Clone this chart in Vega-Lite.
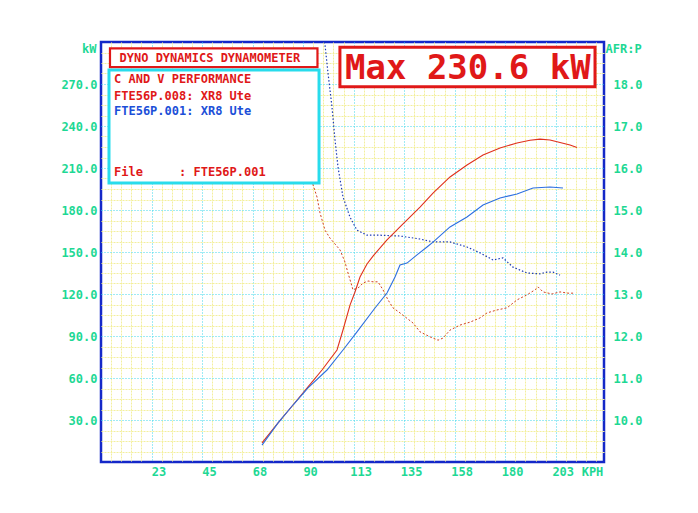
{
  "$schema": "https://vega.github.io/schema/vega-lite/v6.json",
  "width": 503,
  "height": 420,
  "autosize": {"type": "none"},
  "padding": {"left": 101, "top": 42, "right": 94, "bottom": 51},
  "background": "white",
  "config": {
    "view": {"stroke": "#1428c8", "strokeWidth": 2.5, "fill": "white"},
    "axis": {
      "labelFont": "DejaVu Sans Mono",
      "labelFontSize": 12,
      "labelFontWeight": "bold",
      "labelColor": "#1ed894",
      "titleFont": "DejaVu Sans Mono",
      "titleFontSize": 12,
      "titleFontWeight": "bold",
      "titleColor": "#1ed894",
      "ticks": false,
      "tickSize": 0,
      "domain": false,
      "labelOverlap": false,
      "labelFlush": false
    }
  },
  "datasets": {
    "power": [
      {"run": "FTE56P.008", "kph": 71.7, "kw": 13.6},
      {"run": "FTE56P.008", "kph": 78.86, "kw": 27.9},
      {"run": "FTE56P.008", "kph": 85.5, "kw": 40.7},
      {"run": "FTE56P.008", "kph": 92.19, "kw": 53.6},
      {"run": "FTE56P.008", "kph": 98.42, "kw": 65.7},
      {"run": "FTE56P.008", "kph": 105.1, "kw": 80.0},
      {"run": "FTE56P.008", "kph": 107.77, "kw": 94.3},
      {"run": "FTE56P.008", "kph": 110.89, "kw": 112.1},
      {"run": "FTE56P.008", "kph": 113.11, "kw": 121.4},
      {"run": "FTE56P.008", "kph": 115.34, "kw": 132.1},
      {"run": "FTE56P.008", "kph": 118.46, "kw": 141.4},
      {"run": "FTE56P.008", "kph": 121.13, "kw": 147.1},
      {"run": "FTE56P.008", "kph": 127.36, "kw": 158.6},
      {"run": "FTE56P.008", "kph": 133.15, "kw": 167.9},
      {"run": "FTE56P.008", "kph": 142.06, "kw": 182.1},
      {"run": "FTE56P.008", "kph": 147.85, "kw": 192.1},
      {"run": "FTE56P.008", "kph": 155.42, "kw": 203.6},
      {"run": "FTE56P.008", "kph": 162.99, "kw": 212.1},
      {"run": "FTE56P.008", "kph": 170.12, "kw": 219.3},
      {"run": "FTE56P.008", "kph": 177.69, "kw": 224.3},
      {"run": "FTE56P.008", "kph": 185.26, "kw": 227.9},
      {"run": "FTE56P.008", "kph": 191.05, "kw": 229.8},
      {"run": "FTE56P.008", "kph": 195.5, "kw": 230.6},
      {"run": "FTE56P.008", "kph": 199.96, "kw": 230.0},
      {"run": "FTE56P.008", "kph": 204.41, "kw": 228.2},
      {"run": "FTE56P.008", "kph": 208.86, "kw": 226.4},
      {"run": "FTE56P.008", "kph": 211.98, "kw": 224.6},
      {"run": "FTE56P.001", "kph": 71.7, "kw": 12.1},
      {"run": "FTE56P.001", "kph": 78.86, "kw": 27.9},
      {"run": "FTE56P.001", "kph": 85.5, "kw": 40.7},
      {"run": "FTE56P.001", "kph": 92.19, "kw": 52.9},
      {"run": "FTE56P.001", "kph": 100.65, "kw": 65.7},
      {"run": "FTE56P.001", "kph": 107.77, "kw": 80.0},
      {"run": "FTE56P.001", "kph": 114.0, "kw": 92.9},
      {"run": "FTE56P.001", "kph": 122.02, "kw": 110.0},
      {"run": "FTE56P.001", "kph": 127.36, "kw": 120.7},
      {"run": "FTE56P.001", "kph": 130.93, "kw": 132.1},
      {"run": "FTE56P.001", "kph": 133.15, "kw": 140.7},
      {"run": "FTE56P.001", "kph": 136.27, "kw": 142.1},
      {"run": "FTE56P.001", "kph": 140.72, "kw": 147.9},
      {"run": "FTE56P.001", "kph": 145.18, "kw": 153.6},
      {"run": "FTE56P.001", "kph": 147.85, "kw": 157.1},
      {"run": "FTE56P.001", "kph": 155.42, "kw": 167.9},
      {"run": "FTE56P.001", "kph": 162.99, "kw": 175.0},
      {"run": "FTE56P.001", "kph": 170.12, "kw": 183.6},
      {"run": "FTE56P.001", "kph": 177.69, "kw": 188.6},
      {"run": "FTE56P.001", "kph": 185.26, "kw": 191.4},
      {"run": "FTE56P.001", "kph": 192.39, "kw": 195.7},
      {"run": "FTE56P.001", "kph": 199.96, "kw": 196.4},
      {"run": "FTE56P.001", "kph": 205.74, "kw": 195.7}
    ],
    "afr": [
      {"run": "FTE56P.008", "kph": 93.52, "afr": 15.9},
      {"run": "FTE56P.008", "kph": 94.41, "afr": 15.6},
      {"run": "FTE56P.008", "kph": 96.19, "afr": 15.31},
      {"run": "FTE56P.008", "kph": 97.53, "afr": 14.93},
      {"run": "FTE56P.008", "kph": 99.76, "afr": 14.52},
      {"run": "FTE56P.008", "kph": 101.98, "afr": 14.33},
      {"run": "FTE56P.008", "kph": 106.44, "afr": 14.05},
      {"run": "FTE56P.008", "kph": 108.66, "afr": 13.76},
      {"run": "FTE56P.008", "kph": 110.0, "afr": 13.5},
      {"run": "FTE56P.008", "kph": 112.22, "afr": 13.1},
      {"run": "FTE56P.008", "kph": 114.45, "afr": 13.14},
      {"run": "FTE56P.008", "kph": 116.68, "afr": 13.26},
      {"run": "FTE56P.008", "kph": 118.9, "afr": 13.31},
      {"run": "FTE56P.008", "kph": 121.13, "afr": 13.29},
      {"run": "FTE56P.008", "kph": 123.36, "afr": 13.29},
      {"run": "FTE56P.008", "kph": 125.58, "afr": 13.1},
      {"run": "FTE56P.008", "kph": 127.81, "afr": 12.86},
      {"run": "FTE56P.008", "kph": 130.04, "afr": 12.67},
      {"run": "FTE56P.008", "kph": 133.15, "afr": 12.55},
      {"run": "FTE56P.008", "kph": 138.94, "afr": 12.31},
      {"run": "FTE56P.008", "kph": 142.06, "afr": 12.1},
      {"run": "FTE56P.008", "kph": 146.52, "afr": 11.98},
      {"run": "FTE56P.008", "kph": 150.08, "afr": 11.9},
      {"run": "FTE56P.008", "kph": 152.3, "afr": 11.95},
      {"run": "FTE56P.008", "kph": 155.42, "afr": 12.14},
      {"run": "FTE56P.008", "kph": 159.88, "afr": 12.26},
      {"run": "FTE56P.008", "kph": 164.33, "afr": 12.33},
      {"run": "FTE56P.008", "kph": 168.78, "afr": 12.43},
      {"run": "FTE56P.008", "kph": 171.9, "afr": 12.55},
      {"run": "FTE56P.008", "kph": 176.35, "afr": 12.62},
      {"run": "FTE56P.008", "kph": 180.81, "afr": 12.67},
      {"run": "FTE56P.008", "kph": 185.26, "afr": 12.86},
      {"run": "FTE56P.008", "kph": 189.71, "afr": 12.98},
      {"run": "FTE56P.008", "kph": 193.28, "afr": 13.1},
      {"run": "FTE56P.008", "kph": 194.61, "afr": 13.17},
      {"run": "FTE56P.008", "kph": 196.84, "afr": 13.05},
      {"run": "FTE56P.008", "kph": 200.85, "afr": 13.0},
      {"run": "FTE56P.008", "kph": 204.41, "afr": 13.05},
      {"run": "FTE56P.008", "kph": 207.97, "afr": 13.02},
      {"run": "FTE56P.008", "kph": 211.09, "afr": 13.02},
      {"run": "FTE56P.001", "kph": 99.31, "afr": 19.0},
      {"run": "FTE56P.001", "kph": 99.76, "afr": 18.93},
      {"run": "FTE56P.001", "kph": 101.09, "afr": 18.26},
      {"run": "FTE56P.001", "kph": 102.87, "afr": 17.45},
      {"run": "FTE56P.001", "kph": 104.21, "afr": 16.67},
      {"run": "FTE56P.001", "kph": 105.55, "afr": 16.02},
      {"run": "FTE56P.001", "kph": 107.77, "afr": 15.31},
      {"run": "FTE56P.001", "kph": 110.89, "afr": 14.83},
      {"run": "FTE56P.001", "kph": 114.0, "afr": 14.52},
      {"run": "FTE56P.001", "kph": 118.46, "afr": 14.4},
      {"run": "FTE56P.001", "kph": 124.25, "afr": 14.4},
      {"run": "FTE56P.001", "kph": 133.15, "afr": 14.38},
      {"run": "FTE56P.001", "kph": 142.06, "afr": 14.31},
      {"run": "FTE56P.001", "kph": 147.85, "afr": 14.24},
      {"run": "FTE56P.001", "kph": 155.42, "afr": 14.24},
      {"run": "FTE56P.001", "kph": 162.99, "afr": 14.12},
      {"run": "FTE56P.001", "kph": 168.78, "afr": 13.98},
      {"run": "FTE56P.001", "kph": 174.57, "afr": 13.81},
      {"run": "FTE56P.001", "kph": 179.02, "afr": 13.86},
      {"run": "FTE56P.001", "kph": 183.48, "afr": 13.64},
      {"run": "FTE56P.001", "kph": 189.71, "afr": 13.5},
      {"run": "FTE56P.001", "kph": 195.5, "afr": 13.48},
      {"run": "FTE56P.001", "kph": 198.62, "afr": 13.52},
      {"run": "FTE56P.001", "kph": 201.29, "afr": 13.52},
      {"run": "FTE56P.001", "kph": 204.41, "afr": 13.45}
    ]
  },
  "layer": [
    {
      "data": {"name": "afr"},
      "layer": [
        {
          "transform": [{"filter": "datum.run == 'FTE56P.008'"}],
          "mark": {"type": "line", "color": "#d2401e", "strokeWidth": 1, "strokeDash": [2, 2]},
          "encoding": {
            "x": {
              "field": "kph", "type": "quantitative",
              "scale": {"domain": [0, 224], "nice": false, "zero": false},
              "axis": {
                "orient": "bottom",
                "values": [4.5, 9, 13.5, 18, 27, 31.5, 36, 40.5, 49.5, 54, 58.5, 63, 72, 76.5, 81, 85.5, 94.5, 99, 103.5, 108, 117, 121.5, 126, 130.5, 139.5, 144, 148.5, 153, 162, 166.5, 171, 175.5, 184.5, 189, 193.5, 198, 207, 211.5, 216, 220.5],
                "labels": false,
                "title": null,
                "grid": true,
                "gridColor": "#f3ef9c",
                "gridDash": [2, 1],
                "gridWidth": 1
              }
            },
            "y": {
              "field": "afr", "type": "quantitative",
              "scale": {"domain": [9, 19], "nice": false, "zero": false},
              "axis": {
                "orient": "right",
                "values": [9.25, 9.5, 9.75, 10.25, 10.5, 10.75, 11.25, 11.5, 11.75, 12.25, 12.5, 12.75, 13.25, 13.5, 13.75, 14.25, 14.5, 14.75, 15.25, 15.5, 15.75, 16.25, 16.5, 16.75, 17.25, 17.5, 17.75, 18.25, 18.5, 18.75],
                "labels": false,
                "title": null,
                "grid": true,
                "gridColor": "#f3ef9c",
                "gridDash": [2, 1],
                "gridWidth": 1
              }
            }
          }
        },
        {
          "transform": [{"filter": "datum.run == 'FTE56P.001'"}],
          "mark": {"type": "line", "color": "#1a3ab4", "strokeWidth": 1.2, "strokeDash": [1.5, 2]},
          "encoding": {
            "x": {"field": "kph", "type": "quantitative", "axis": null},
            "y": {
              "field": "afr", "type": "quantitative",
              "axis": {
                "orient": "right",
                "values": [10, 11, 12, 13, 14, 15, 16, 17, 18],
                "format": ".1f",
                "grid": false,
                "labelAlign": "left",
                "labelPadding": 9,
                "title": "AFR:P",
                "titleAngle": 0,
                "titleAlign": "left",
                "titleBaseline": "middle",
                "titleX": 1,
                "titleY": 6
              }
            }
          }
        }
      ],
      "resolve": {"axis": {"x": "independent", "y": "independent"}}
    },
    {
      "data": {"name": "power"},
      "layer": [
        {
          "transform": [{"filter": "datum.run == 'FTE56P.008'"}],
          "mark": {"type": "line", "color": "#e0301c", "strokeWidth": 1.1},
          "encoding": {
            "x": {
              "field": "kph", "type": "quantitative",
              "scale": {"domain": [0, 224], "nice": false, "zero": false},
              "axis": {
                "orient": "bottom",
                "values": [22.5, 45, 67.5, 90, 112.5, 135, 157.5, 180, 202.5],
                "labelExpr": "'' + round(datum.value)",
                "labelOffset": 7,
                "labelPadding": 4,
                "grid": true,
                "gridColor": "#3cd6ea",
                "gridDash": [1, 2],
                "gridWidth": 1,
                "title": "KPH",
                "titleX": 491,
                "titleY": 9,
                "titleAlign": "center",
                "titleBaseline": "middle"
              }
            },
            "y": {
              "field": "kw", "type": "quantitative",
              "scale": {"domain": [0, 300], "nice": false, "zero": false},
              "axis": {
                "orient": "left",
                "values": [30, 60, 90, 120, 150, 180, 210, 240, 270],
                "format": ".1f",
                "labelPadding": 4,
                "grid": true,
                "gridColor": "#3cd6ea",
                "gridDash": [1, 2],
                "gridWidth": 1,
                "title": "kW",
                "titleAngle": 0,
                "titleAlign": "right",
                "titleBaseline": "middle",
                "titleX": -5,
                "titleY": 6
              }
            }
          }
        },
        {
          "transform": [{"filter": "datum.run == 'FTE56P.001'"}],
          "mark": {"type": "line", "color": "#2c6fe0", "strokeWidth": 1.1},
          "encoding": {
            "x": {"field": "kph", "type": "quantitative", "axis": null},
            "y": {"field": "kw", "type": "quantitative", "axis": null}
          }
        }
      ],
      "resolve": {"axis": {"x": "independent", "y": "independent"}}
    },
    {
      "data": {"values": [{}]},
      "layer": [
        {
          "mark": {"type": "rect", "fill": "white", "stroke": "#e01818", "strokeWidth": 2.2},
          "encoding": {
            "x": {"datum": 4.0, "type": "quantitative", "scale": {"domain": [0, 224], "nice": false, "zero": false}, "axis": null},
            "x2": {"datum": 96.4},
            "y": {"datum": 295.4, "type": "quantitative", "scale": {"domain": [0, 300], "nice": false, "zero": false}, "axis": null},
            "y2": {"datum": 282.1}
          }
        },
        {
          "mark": {"type": "rect", "fill": "white", "stroke": "#28dcec", "strokeWidth": 3},
          "encoding": {
            "x": {"datum": 3.56, "type": "quantitative", "axis": null},
            "x2": {"datum": 97.1},
            "y": {"datum": 280.0, "type": "quantitative", "axis": null},
            "y2": {"datum": 199.3}
          }
        },
        {
          "mark": {"type": "rect", "fill": "white", "stroke": "#e01818", "strokeWidth": 3},
          "encoding": {
            "x": {"datum": 106.4, "type": "quantitative", "axis": null},
            "x2": {"datum": 220.0},
            "y": {"datum": 296.2, "type": "quantitative", "axis": null},
            "y2": {"datum": 268.1}
          }
        },
        {
          "mark": {"type": "text", "text": "DYNO DYNAMICS DYNAMOMETER", "font": "DejaVu Sans Mono", "fontSize": 12, "fontWeight": "bold", "color": "#e01818", "align": "left", "baseline": "middle"},
          "encoding": {
            "x": {"datum": 8.24, "type": "quantitative", "axis": null},
            "y": {"datum": 288.5, "type": "quantitative", "axis": null}
          }
        },
        {
          "mark": {"type": "text", "text": "C AND V PERFORMANCE", "font": "DejaVu Sans Mono", "fontSize": 12, "fontWeight": "bold", "color": "#e01818", "align": "left", "baseline": "middle"},
          "encoding": {
            "x": {"datum": 5.79, "type": "quantitative", "axis": null},
            "y": {"datum": 273.5, "type": "quantitative", "axis": null}
          }
        },
        {
          "mark": {"type": "text", "text": "FTE56P.008: XR8 Ute", "font": "DejaVu Sans Mono", "fontSize": 12, "fontWeight": "bold", "color": "#e01818", "align": "left", "baseline": "middle"},
          "encoding": {
            "x": {"datum": 5.79, "type": "quantitative", "axis": null},
            "y": {"datum": 261.6, "type": "quantitative", "axis": null}
          }
        },
        {
          "mark": {"type": "text", "text": "FTE56P.001: XR8 Ute", "font": "DejaVu Sans Mono", "fontSize": 12, "fontWeight": "bold", "color": "#1c4fd8", "align": "left", "baseline": "middle"},
          "encoding": {
            "x": {"datum": 5.79, "type": "quantitative", "axis": null},
            "y": {"datum": 250.5, "type": "quantitative", "axis": null}
          }
        },
        {
          "mark": {"type": "text", "text": "File\u00a0\u00a0\u00a0\u00a0\u00a0: FTE56P.001", "font": "DejaVu Sans Mono", "fontSize": 12, "fontWeight": "bold", "color": "#e01818", "align": "left", "baseline": "middle"},
          "encoding": {
            "x": {"datum": 5.79, "type": "quantitative", "axis": null},
            "y": {"datum": 206.8, "type": "quantitative", "axis": null}
          }
        },
        {
          "mark": {"type": "text", "text": "Max 230.6 kW", "font": "DejaVu Sans Mono", "fontSize": 34, "fontWeight": "bold", "color": "#e01818", "align": "left", "baseline": "middle"},
          "encoding": {
            "x": {"datum": 108.66, "type": "quantitative", "axis": null},
            "y": {"datum": 280.6, "type": "quantitative", "axis": null}
          }
        }
      ]
    }
  ],
  "resolve": {"scale": {"x": "independent", "y": "independent"}, "axis": {"x": "independent", "y": "independent"}}
}
